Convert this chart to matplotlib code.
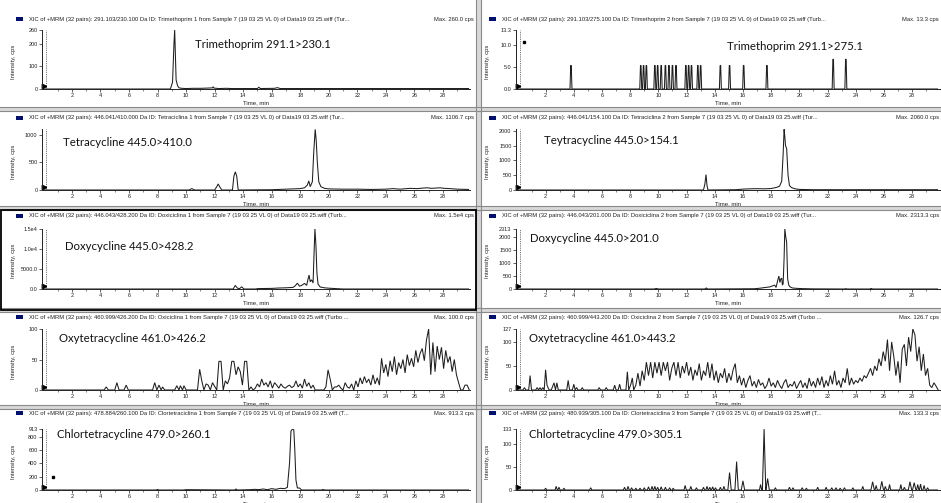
import numpy as np
import matplotlib
matplotlib.use("Agg")
import matplotlib.pyplot as plt
from matplotlib.patches import Rectangle
from matplotlib.transforms import blended_transform_factory

W, H = 941, 503

# ---------------- data ----------------
time_ticks = list(range(2, 30, 2))

# Panel 1: Trimethoprim 291.1>230.1
trim1_t = [0.0, 0.5, 8.9, 9.05, 9.15, 9.2, 9.25, 9.3, 9.4, 9.5, 9.7, 10.0, 10.5, 11.0, 11.5,
           11.85, 11.9, 11.95, 12.3, 12.8, 13.2, 15.0, 15.1, 15.2, 16.2, 16.4, 16.6, 19.0, 20.5, 29.8]
trim1_i = [0, 0, 0, 30, 200, 260, 150, 40, 15, 5, 3, 2, 3, 3, 4,
           5, 10, 4, 2, 3, 2, 2, 8, 2, 3, 6, 2, 2, 2, 2]

# Panel 2: Trimethoprim 291.1>275.1 (isolated spikes)
trim2_centers = [3.8, 8.75, 8.95, 9.15, 9.75, 9.95, 10.2, 10.5, 10.75, 11.0, 11.25,
                 11.95, 12.15, 12.35, 12.8, 13.0, 14.4, 15.05, 16.05, 17.7, 22.4, 23.3]
trim2_heights = [5.3, 5.3, 5.3, 5.3, 5.3, 5.3, 5.3, 5.3, 5.3, 5.3, 5.3,
                 5.3, 5.3, 5.3, 5.3, 5.3, 5.3, 5.3, 5.3, 5.3, 6.7, 6.7]
trim2_dot = (0.5, 10.5)

# Panel 3: Tetracycline 445.0>410.0
tet1_t = [0.0, 10.2, 10.4, 10.6, 12.0, 12.15, 12.25, 12.35, 12.5, 13.25, 13.35, 13.45, 13.55,
          13.65, 16.0, 16.5, 17.0, 17.5, 18.0, 18.3, 18.5, 18.6, 18.7, 18.85, 18.95, 19.05,
          19.12, 19.2, 19.3, 19.45, 19.7, 20.0, 21.0, 22.0, 23.0, 24.0, 24.5, 25.0, 25.7,
          26.2, 26.6, 26.9, 27.2, 27.5, 27.8, 28.1, 28.5, 29.0, 29.8]
tet1_i = [0, 0, 25, 0, 0, 60, 110, 60, 0, 0, 250, 330, 250,
          0, 5, 10, 15, 20, 25, 40, 90, 165, 60, 150, 700, 1100,
          900, 500, 150, 60, 30, 20, 15, 15, 10, 15, 25, 15, 30,
          25, 35, 40, 30, 35, 40, 30, 25, 15, 10]

# Panel 4: Teytracycline 445.0>154.1
tet2_t = [0.0, 13.2, 13.3, 13.38, 13.45, 13.52, 15.5, 16.0, 16.5, 17.0, 17.5, 18.0, 18.4,
          18.6, 18.75, 18.85, 18.92, 18.97, 19.02, 19.1, 19.2, 19.3, 19.45, 19.7, 20.0, 21.0, 29.8]
tet2_i = [0, 0, 200, 520, 150, 0, 10, 30, 40, 45, 40, 50, 90,
          130, 300, 1200, 2050, 1800, 1500, 1400, 500, 150, 80, 40, 20, 10, 10]

# Panel 5: Doxycycline 445.0>428.2
doxy1_t = [0.0, 13.3, 13.45, 13.6, 13.75, 13.9, 14.05, 14.9, 15.0, 16.0, 16.5, 17.0, 17.5,
           17.65, 17.8, 17.95, 18.1, 18.3, 18.45, 18.55, 18.62, 18.7, 18.8, 18.9, 18.97, 19.03,
           19.1, 19.17, 19.25, 19.4, 19.7, 20.0, 20.6, 21.0, 29.8]
doxy1_i = [0, 0, 900, 200, 100, 550, 0, 0, 100, 150, 250, 300, 400,
           800, 1450, 700, 900, 1400, 900, 2500, 3500, 1800, 2300, 1500, 9000, 15000,
           11000, 4000, 1200, 500, 300, 200, 80, 0, 0]

# Panel 6: Doxycycline 445.0>201.0
doxy2_t = [0.0, 9.7, 9.85, 10.0, 13.3, 13.4, 13.5, 16.8, 17.2, 17.6, 17.9, 18.1, 18.25, 18.35,
           18.45, 18.55, 18.62, 18.68, 18.75, 18.8, 18.85, 18.92, 18.97, 19.04, 19.1, 19.17,
           19.25, 19.35, 19.5, 19.8, 20.2, 21.0, 23.2, 23.3, 23.4, 25.0, 25.1, 25.2, 29.8]
doxy2_i = [0, 0, 20, 0, 0, 40, 0, 10, 30, 60, 80, 120, 150, 60,
           300, 500, 250, 380, 420, 150, 200, 1200, 2313, 2000, 1800, 400,
           150, 80, 40, 25, 15, 5, 0, 12, 0, 0, 20, 0, 0]

# Panel 7: Oxytetracycline 461.0>426.2
oxy1_early_t = [0.0, 4.25, 4.4, 4.55, 5.0, 5.15, 5.3, 5.65, 5.8, 5.95, 7.65, 7.8, 7.95, 8.1,
                8.25, 8.35, 8.5, 9.2, 9.35, 9.5, 9.6, 9.75, 9.85, 10.0, 10.8]
oxy1_early_i = [0, 0, 5, 0, 0, 12, 0, 0, 8, 0, 0, 12, 0, 8,
                0, 5, 0, 0, 7, 0, 7, 0, 7, 0, 0]
oxy1_scan_start, oxy1_scan_step = 10.95, 0.15
oxy1_scan_i = [34, 15, 0, 10, 8, 0, 12, 6, 0, 47,
               47, 0, 15, 10, 20, 47, 47, 25, 38, 30,
               8, 47, 47, 0, 5, 0, 3, 10, 5, 18,
               8, 12, 5, 15, 3, 12, 8, 3, 10, 5,
               3, 6, 8, 4, 6, 15, 5, 10, 3, 18,
               6, 12, 3, 8, 0, 0, 0, 0, 0, 5,
               33, 18, 0, 5, 5, 8, 3, 0, 12, 5,
               3, 10, 0, 15, 5, 20, 10, 22, 12, 18,
               8, 25, 10, 20, 8, 52, 28, 42, 22, 48,
               30, 55, 25, 45, 35, 50, 28, 58, 40, 52,
               38, 65, 45, 60, 68, 48, 82, 100, 25, 78,
               30, 72, 50, 70, 35, 65, 45, 55, 30, 50,
               25, 12, 0, 0, 8, 8, 0]

# Panel 8: Oxytetracycline 461.0>443.2
oxy2_early_t = [0.0, 0.4, 0.5, 0.6, 0.8, 0.9, 1.0, 1.3, 1.4, 1.5, 1.6, 1.7, 1.8, 1.9, 2.0, 2.1,
                2.25, 2.4, 2.6, 2.7, 2.8, 2.9, 3.0, 3.5, 3.6, 3.7, 3.9, 4.0, 4.1, 4.2, 4.3, 4.5,
                4.6, 4.7, 5.7, 5.8, 5.9, 6.2, 6.3, 6.4, 6.8, 6.9, 7.0, 7.15, 7.25, 7.35, 7.7,
                7.8, 7.9, 8.05, 8.15, 8.25]
oxy2_early_i = [0, 0, 5, 0, 0, 30, 0, 0, 5, 0, 5, 0, 5, 0, 42, 10,
                0, 0, 15, 0, 15, 0, 0, 0, 20, 0, 0, 12, 0, 5, 0, 0,
                5, 0, 0, 5, 0, 0, 5, 0, 0, 10, 0, 0, 12, 0, 0,
                38, 0, 12, 25, 0]
oxy2_scan_start, oxy2_scan_step = 8.4, 0.15
oxy2_scan_i = [10, 35, 8, 40, 20, 58, 30, 58, 25, 58,
               35, 58, 30, 58, 40, 58, 20, 45, 58, 30,
               58, 25, 50, 35, 58, 30, 48, 20, 42, 30,
               55, 20, 40, 30, 58, 25, 55, 20, 40, 15,
               35, 25, 45, 15, 35, 20, 42, 55, 15, 30,
               10, 25, 5, 20, 30, 8, 18, 5, 22, 10,
               15, 3, 10, 25, 8, 15, 5, 20, 10, 3,
               15, 22, 5, 12, 8, 18, 3, 12, 20, 5,
               15, 3, 25, 8, 18, 5, 25, 10, 28, 5,
               20, 8, 30, 12, 40, 10, 20, 5, 25, 15,
               45, 10, 25, 12, 20, 15, 25, 18, 30, 25,
               35, 45, 30, 50, 40, 65, 50, 80, 60, 105,
               40, 100, 70, 30, 60, 15, 85, 95, 50, 110,
               80, 127, 115, 60, 90, 40, 75, 30, 45, 10,
               5, 15, 8, 0]

# Panel 9: Chlortetracycline 479.0>260.1
chl1_t = [0.0, 7.9, 8.0, 8.1, 9.8, 10.0, 13.4, 13.5, 13.6, 14.5, 14.8, 15.1, 15.4, 15.7, 16.0,
          16.3, 16.6, 16.9, 17.1, 17.25, 17.35, 17.45, 17.55, 17.62, 17.7, 17.8, 17.95, 18.1,
          19.5, 19.6, 19.7, 29.8]
chl1_i = [0, 0, 8, 0, 0, 5, 0, 15, 0, 5, 10, 5, 15, 5, 20,
          10, 25, 20, 40, 400, 880, 913, 900, 600, 150, 30, 30, 0,
          0, 8, 0, 0]
chl1_dot = (0.7, 200)

# Panel 10: Chlortetracycline 479.0>305.1 (peaks)
chl2_centers = [2.0, 2.75, 2.95, 3.3, 5.2, 7.6, 7.85, 8.1, 8.4, 8.7, 9.0, 9.3, 9.55, 9.75, 9.95,
                10.2, 10.5, 10.8, 11.05, 11.9, 12.3, 12.7, 13.2, 13.45, 13.65, 13.85, 14.05,
                14.4, 14.65, 15.05, 15.55, 16.0, 17.25, 17.5, 17.75, 18.3, 19.3, 19.55, 20.2,
                20.5, 21.3, 21.9, 22.3, 22.6, 22.9, 23.2, 23.8, 24.5, 25.2, 25.45, 25.85, 26.1,
                26.4, 27.2, 27.45, 27.85, 28.15, 28.4, 28.6, 28.85, 29.1]
chl2_heights = [4, 8, 6, 4, 5, 6, 8, 5, 4, 4, 5, 7, 8, 8, 6,
                7, 6, 5, 4, 10, 8, 5, 6, 8, 6, 7, 5,
                6, 8, 38, 62, 20, 12, 133, 25, 5, 6, 5, 5,
                4, 6, 6, 5, 5, 4, 5, 5, 8, 18, 10, 19, 8,
                12, 12, 6, 18, 16, 12, 13, 10, 5]

headers = [
    "XIC of +MRM (32 pairs): 291.103/230.100 Da ID: Trimethoprim 1 from Sample 7 (19 03 25 VL 0) of Data19 03 25.wiff (Tur...",
    "XIC of +MRM (32 pairs): 291.103/275.100 Da ID: Trimethoprim 2 from Sample 7 (19 03 25 VL 0) of Data19 03 25.wiff (Turb...",
    "XIC of +MRM (32 pairs): 446.041/410.000 Da ID: Tetraciclina 1 from Sample 7 (19 03 25 VL 0) of Data19 03 25.wiff (Tur...",
    "XIC of +MRM (32 pairs): 446.041/154.100 Da ID: Tetraciclina 2 from Sample 7 (19 03 25 VL 0) of Data19 03 25.wiff (Tur...",
    "XIC of +MRM (32 pairs): 446.043/428.200 Da ID: Doxiciclina 1 from Sample 7 (19 03 25 VL 0) of Data19 03 25.wiff (Turb...",
    "XIC of +MRM (32 pairs): 446.043/201.000 Da ID: Doxiciclina 2 from Sample 7 (19 03 25 VL 0) of Data19 03 25.wiff (Tur...",
    "XIC of +MRM (32 pairs): 460.999/426.200 Da ID: Oxiciclina 1 from Sample 7 (19 03 25 VL 0) of Data19 03 25.wiff (Turbo ...",
    "XIC of +MRM (32 pairs): 460.999/443.200 Da ID: Oxiciclina 2 from Sample 7 (19 03 25 VL 0) of Data19 03 25.wiff (Turbo ...",
    "XIC of +MRM (32 pairs): 478.884/260.100 Da ID: Clortetraciclina 1 from Sample 7 (19 03 25 VL 0) of Data19 03 25.wiff (T...",
    "XIC of +MRM (32 pairs): 480.939/305.100 Da ID: Clortetraciclina 3 from Sample 7 (19 03 25 VL 0) of Data19 03 25.wiff (T...",
]
max_labels = ["Max. 260.0 cps", "Max. 13.3 cps", "Max. 1106.7 cps", "Max. 2060.0 cps",
              "Max. 1.5e4 cps", "Max. 2313.3 cps", "Max. 100.0 cps", "Max. 126.7 cps",
              "Max. 913.3 cps", "Max. 133.3 cps"]
compound_labels = ["Trimethoprim 291.1>230.1", "Trimethoprim 291.1>275.1",
                   "Tetracycline 445.0>410.0", "Teytracycline 445.0>154.1",
                   "Doxycycline 445.0>428.2", "Doxycycline 445.0>201.0",
                   "Oxytetracycline 461.0>426.2", "Oxytetracycline 461.0>443.2",
                   "Chlortetracycline 479.0>260.1", "Chlortetracycline 479.0>305.1"]
y_max = [260, 13.3, 1106.7, 2060, 15000, 2313.3, 100, 126.7, 913.3, 133.3]
y_tick_values = [[0, 100, 200, 260], [0, 5, 10, 13.3], [0, 500, 1000],
                 [0, 500, 1000, 1500, 2000], [0, 5000, 10000, 15000],
                 [0, 500, 1000, 1500, 2000, 2313], [0, 50, 100], [0, 50, 100, 127],
                 [0, 200, 400, 600, 800, 913], [0, 50, 100, 133]]
y_tick_labels = [["0", "100", "200", "260"], ["0.0", "5.0", "10.0", "13.3"], ["0", "500", "1000"],
                 ["0", "500", "1000", "1500", "2000"], ["0.0", "5000.0", "1.0e4", "1.5e4"],
                 ["0", "500", "1000", "1500", "2000", "2313"], ["0", "50", "100"],
                 ["0", "50", "100", "127"], ["0", "200", "400", "600", "800", "913"],
                 ["0", "50", "100", "133"]]


def spike_trace(centers, heights, flat):
    t, v = [0.0], [0.0]
    for c, h in zip(centers, heights):
        hw = 0.07 if flat else (0.12 if h > 15 else 0.08)
        if flat:
            t += [c - hw, c - 0.02, c + 0.02, c + hw]
            v += [0, h, h, 0]
        else:
            t += [c - hw, c, c + hw]
            v += [0, h, 0]
    t.append(29.8)
    v.append(0)
    return t, v


def scan_trace(early_t, early_i, start, step, vals):
    st = list(np.round(start + step * np.arange(len(vals)), 3))
    return list(early_t) + st, list(early_i) + list(vals)


traces = [
    (trim1_t, trim1_i),
    spike_trace(trim2_centers, trim2_heights, True),
    (tet1_t, tet1_i),
    (tet2_t, tet2_i),
    (doxy1_t, doxy1_i),
    (doxy2_t, doxy2_i),
    scan_trace(oxy1_early_t, oxy1_early_i, oxy1_scan_start, oxy1_scan_step, oxy1_scan_i),
    scan_trace(oxy2_early_t, oxy2_early_i, oxy2_scan_start, oxy2_scan_step, oxy2_scan_i),
    (chl1_t, chl1_i),
    spike_trace(chl2_centers, chl2_heights, False),
]
dots = {1: trim2_dot, 8: chl1_dot}

# ---------------- layout (pixels) ----------------
cols = [dict(x0=42, x1=470, xlim=(-0.1, 29.9), icon=16, head=29, maxr=474, ylab=14),
        dict(x0=516, x1=941, xlim=(-0.1, 30.05), icon=489, head=502, maxr=939, ylab=487)]
rows = [dict(top=30, bot=89, head=19), dict(top=129, bot=190, head=118),
        dict(top=229, bot=289, head=216), dict(top=329, bot=390, head=317),
        dict(top=429, bot=490, head=413)]
label_pos = [(195, 44), (727, 47), (63, 143), (544, 140), (65, 247),
             (530, 238), (59, 338), (529, 339), (57, 434), (529, 434)]

SMALL = "Liberation Sans"

fig = plt.figure(figsize=(W / 100, H / 100), dpi=100)
fig.patch.set_facecolor("white")


def fx(x):
    return x / W


def fy(y):
    return 1 - y / H


def px_rect(x0, y0, x1, y1, **kw):
    r = Rectangle((fx(x0), fy(y1)), (x1 - x0) / W, (y1 - y0) / H,
                  transform=fig.transFigure, **kw)
    fig.add_artist(r)


# separators
for (a, b) in [(107, 111), (206, 210), (308, 312), (405, 409)]:
    px_rect(0, a, W, b, facecolor="#d8d8d8", edgecolor="none", zorder=0)
    fig.add_artist(plt.Line2D([0, 1], [fy(a), fy(a)], transform=fig.transFigure,
                              color="#8a8a8a", lw=0.8))
    fig.add_artist(plt.Line2D([0, 1], [fy(b), fy(b)], transform=fig.transFigure,
                              color="#8a8a8a", lw=0.8))
px_rect(476, 0, 481, H, facecolor="#d8d8d8", edgecolor="none", zorder=0)
for xx in (476, 481):
    fig.add_artist(plt.Line2D([fx(xx), fx(xx)], [0, 1], transform=fig.transFigure,
                              color="#8a8a8a", lw=0.8))

for k in range(10):
    r = rows[k // 2]
    c = cols[k % 2]
    ax = fig.add_axes([fx(c["x0"]), fy(r["bot"]), (c["x1"] - c["x0"]) / W,
                       (r["bot"] - r["top"]) / H])
    ax.set_facecolor("white")
    t, v = traces[k]
    ax.plot(t, v, color="#1e1e1e", lw=0.75, solid_joinstyle="miter")
    ax.set_xlim(*c["xlim"])
    ax.set_ylim(0, y_max[k])
    ax.axvline(0.17, color="#444444", lw=0.6, ls=(0, (1, 1.2)))
    trans = blended_transform_factory(ax.transData, ax.transAxes)
    ax.plot([0.05], [0.05], transform=trans, marker=">", ms=3.2, color="black",
            clip_on=False)
    if k in dots:
        ax.plot([dots[k][0]], [dots[k][1]], marker="s", ms=1.6, color="black", lw=0)
    for s in ("top", "right"):
        ax.spines[s].set_visible(False)
    for s in ("left", "bottom"):
        ax.spines[s].set_linewidth(0.7)
        ax.spines[s].set_color("#222222")
    ax.set_xticks(time_ticks)
    ax.set_xticklabels([str(x) for x in time_ticks], family=SMALL)
    ax.set_xticks(list(range(1, 30, 2)), minor=True)
    ax.set_yticks(y_tick_values[k])
    ax.set_yticklabels(y_tick_labels[k], family=SMALL)
    ax.tick_params(axis="both", which="major", length=2, width=0.5, pad=1.2,
                   labelsize=4.0, colors="#222222")
    ax.tick_params(axis="x", which="minor", length=1.2, width=0.4, colors="#222222")
    ax.set_xlabel("Time, min", fontsize=4.3, family=SMALL, labelpad=1.0, color="#222222")

    fig.text(fx(c["ylab"]), fy((r["top"] + r["bot"]) / 2 + 2), "Intensity, cps",
             rotation=90, fontsize=4.2, family=SMALL, va="center", ha="center",
             color="#222222")
    px_rect(c["icon"], r["head"] - 2, c["icon"] + 7, r["head"] + 2,
            facecolor="#00106e", edgecolor="none")
    fig.text(fx(c["head"]), fy(r["head"]), headers[k], fontsize=4.2,
             family=SMALL, va="center", ha="left", color="#222222")
    fig.text(fx(c["maxr"]), fy(r["head"]), max_labels[k], fontsize=4.2,
             family=SMALL, va="center", ha="right", color="#222222")
    lx, ly = label_pos[k]
    fig.text(fx(lx), fy(ly), compound_labels[k], fontsize=8.2, family="Lato",
             va="center", ha="left", color="#111111")

# selected panel border (left, row 3)
px_rect(1, 210, 476, 310, facecolor="none", edgecolor="black", lw=1.3, zorder=5)

fig.savefig("out.png", dpi=100)
